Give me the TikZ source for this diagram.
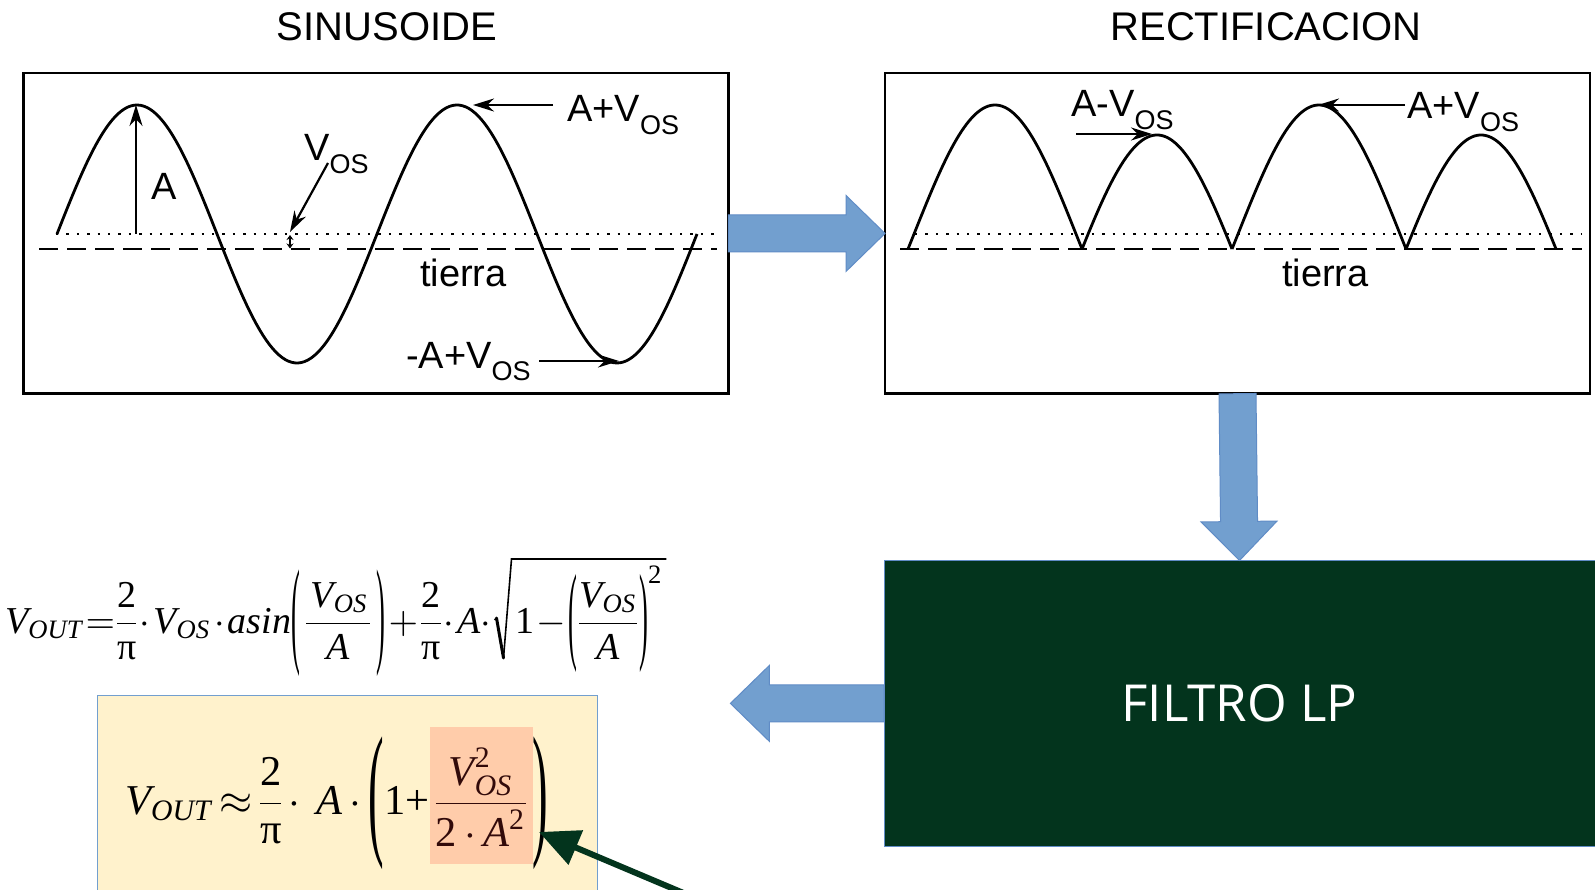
\documentclass[tikz,border=0pt]{standalone}
\usepackage{fontspec}
\usepackage{amsmath}
\setmainfont{Liberation Sans}
\newfontfamily\mserif{Liberation Serif}
\newfontfamily\osans{Open Sans}
\usetikzlibrary{arrows.meta,calc}
\definecolor{barfill}{RGB}{114,159,207}
\definecolor{bardraw}{RGB}{96,140,198}
\definecolor{filtgreen}{RGB}{3,52,29}
\definecolor{yell}{RGB}{255,242,204}
\definecolor{hl}{RGB}{255,204,170}
\definecolor{hltext}{RGB}{50,10,10}
\newcommand\subl[1]{\raisebox{-0.32em}{\fontsize{27}{27}\selectfont #1}}
\newcommand\mv[1]{\text{\mserif\itshape #1}}
\newcommand\md[1]{\text{\mserif #1}}
\newcommand\tallL[2][0.7]{\mathopen{\vcenter{\hbox{\scalebox{#1}[#2]{\mserif (}}}}}
\newcommand\tallR[2][0.7]{\mathclose{\vcenter{\hbox{\scalebox{#1}[#2]{\mserif )}}}}}
\newcommand\blockarr[2]{%
  \path (#1) coordinate (ba1) (#2) coordinate (ba2);
  \path ($(ba2)!39pt!(ba1)$) coordinate (bah);
  \filldraw[barrow] ($(ba1)!18.5pt!90:(ba2)$) -- ($(bah)!18.5pt!-90:(ba1)$)
    -- ($(bah)!38pt!-90:(ba1)$) -- (ba2) -- ($(bah)!38pt!90:(ba1)$)
    -- ($(bah)!18.5pt!90:(ba1)$) -- ($(ba1)!18.5pt!-90:(ba2)$) -- cycle;}
\begin{document}
\begin{tikzpicture}[x=1pt,y=-1pt,
  framebox/.style={draw, line width=2.6pt, inner sep=0pt, outer sep=0pt, anchor=north west},
  title/.style={font=\fontsize{40}{42}\selectfont, inner sep=0pt},
  lbl/.style={font=\fontsize{38}{40}\selectfont, inner sep=0pt, anchor=base west},
  wave/.style={line width=2.8pt},
  gnd/.style={line width=2.8pt, dash pattern=on 19pt off 9pt},
  mid/.style={line width=2.4pt, dash pattern=on 2.4pt off 8pt},
  ptr/.style={line width=2.2pt, -{Stealth[length=21pt,width=13pt]}},
  barrow/.style={fill=barfill, draw=bardraw, line width=1pt},
  formula/.style={inner sep=0pt, anchor=base west, font=\fontsize{10}{12}\selectfont}
]
\useasboundingbox (0,0) rectangle (1595,890);
\fill[white] (0,0) rectangle (1595,890);

% titles
\node[title] (t1) at (387,27) {SINUSOIDE};
\node[title] (t2) at (1266,27) {RECTIFICACION};

% boxes
\node[framebox, minimum width=705pt, minimum height=320.5pt] (sinbox) at (23.4,73.2) {};
\node[framebox, minimum width=705pt, minimum height=320.5pt] (rectbox) at (885,73.2) {};
\node[fill=filtgreen, draw=bardraw, line width=1pt, inner sep=0pt, outer sep=0pt,
      anchor=north west, minimum width=711pt, minimum height=285.8pt,
      text=white, font=\osans\fontsize{51}{52}\selectfont] (filt) at (884,560.5) {FILTRO LP};
\node[fill=yell, draw=barfill, line width=1pt, inner sep=0pt, outer sep=0pt,
      anchor=north west, minimum width=499.3pt, minimum height=210pt] (ybox) at (97.7,695.8) {};

% block arrows
\blockarr{sinbox.east}{rectbox.west}
\blockarr{rectbox.south}{filt.north}
\coordinate (outtip) at (730.4,703.4);
\blockarr{filt.west}{outtip}

% ---- sinusoid box ----
\draw[mid] (56,234) -- (717,234);
\draw[gnd] (39,249) -- (717,249);
\draw[wave] plot[domain=0:720, samples=200] ({57+\x/360*320},{234-129*sin(\x)});
\coordinate (abase) at (136,234);
\coordinate (apeak) at (136,105);
\draw[ptr] (abase) -- (apeak);
\node[lbl] (la) at (151,200) {A};
\node[lbl] (lvos) at (304,161) {V\subl{OS}};
\coordinate (vs) at (328,163);
\coordinate (vt) at (290,232);
\draw[ptr] (vs) -- (vt);
\coordinate (dd1) at (290,235);
\coordinate (dd2) at (290,248.5);
\draw[line width=1.8pt, {Stealth[length=5pt,width=7pt]}-{Stealth[length=5pt,width=7pt]}] (dd1) -- (dd2);
\node[lbl] (lap) at (567,122) {A+V\subl{OS}};
\coordinate (aps) at (553,105);
\coordinate (apt) at (473,105);
\draw[ptr] (aps) -- (apt);
\node[lbl] (lam) at (406,368) {-A+V\subl{OS}};
\coordinate (ams) at (539,361);
\coordinate (amt) at (619,361);
\draw[ptr] (ams) -- (amt);
\node[lbl] (tl) at (420,287) {tierra};

% ---- rectified box ----
\draw[mid] (915,234) -- (1582,234);
\draw[gnd] (900,249) -- (1582,249);
\draw[wave] plot[domain=-6.68:186.68, samples=90] ({908+(\x+6.68)*0.9},{249-(129*sin(\x)+15)});
\draw[wave] plot[domain=186.68:353.32, samples=90] ({908+(\x+6.68)*0.9},{249+(129*sin(\x)+15)});
\draw[wave] plot[domain=353.32:546.68, samples=90] ({908+(\x+6.68)*0.9},{249-(129*sin(\x)+15)});
\draw[wave] plot[domain=546.68:713.32, samples=90] ({908+(\x+6.68)*0.9},{249+(129*sin(\x)+15)});
\node[lbl] (lrm) at (1071,117) {A-V\subl{OS}};
\coordinate (rms) at (1076,134);
\coordinate (rmt) at (1152,134);
\draw[ptr] (rms) -- (rmt);
\node[lbl] (lrp) at (1407,119) {A+V\subl{OS}};
\coordinate (rps) at (1405,105);
\coordinate (rpt) at (1318,105);
\draw[ptr] (rps) -- (rpt);
\node[lbl] (tr) at (1282,287) {tierra};

% ---- formula 1 (left part, radicand, hand-drawn radical) ----
\node[formula] (f1a) at (5,633) {\scalebox{3.8}{%
  \thinmuskip=1mu \medmuskip=1.5mu \thickmuskip=1mu \nulldelimiterspace=0pt
  $\displaystyle
  \mv{V}_{\mv{OUT}}=\frac{\md{2}}{\md{π}}\cdot\mv{V}_{\mv{OS}}\cdot\mv{asin}\tallL{3.1}\mkern3mu\frac{\mkern2mu\mv{V}_{\mv{OS}}\mkern1mu}{\mv{A}}\mkern3mu\tallR{3.1}
  +\frac{\md{2}}{\md{π}}\cdot\mv{A}\cdot$}};
\node[formula] (f1b) at ($(f1a.base east)+(24,0)$) {\scalebox{3.8}{%
  \thinmuskip=1mu \medmuskip=1mu \thickmuskip=1mu \nulldelimiterspace=0pt
  $\displaystyle
  \md{1}-\tallL{2.85}\mkern1mu\frac{\mv{V}_{\mv{OS}}}{\mv{A}}\mkern1mu\tallR{2.85}^{\md{2}}$}};
\coordinate (rtop) at ($(f1b.base west)+(-4,-74)$);
\draw[line width=1.5pt] ($(f1b.base west)+(-21,-13)$) -- ($(f1b.base west)+(-19,-15)$);
\draw[line width=3pt, line cap=round] ($(f1b.base west)+(-19,-15)$) -- ($(f1b.base west)+(-12,25)$);
\draw[line width=1.6pt, line join=miter] ($(f1b.base west)+(-12,25)$) -- (rtop) -- ($(rtop -| f1b.east)+(3,0)$);

% ---- formula 2 ----
\node[formula] (f2) at (125,814) {\scalebox{4.25}{%
  \thinmuskip=2mu \medmuskip=3mu \thickmuskip=3mu \nulldelimiterspace=0pt \fboxsep=0pt
  $\displaystyle
  \mv{V}_{\mv{OUT}}\approx\frac{\md{2}}{\md{π}}\cdot\mkern4mu\mv{A}\cdot\tallL[1.1]{3.45}\md{1}\md{+}%
  \colorbox{hl}{\hspace{0.15em}\rule[-1.18em]{0pt}{3.23em}\color{hltext}$\displaystyle\frac{\mv{V}_{\mv{OS}}^{\md{2}}}{\md{2}\cdot\mv{A}^{\md{2}}}$\hspace{0.15em}}\tallR[1.1]{3.45}$}};

% green pointer
\coordinate (gs) at (700,900);
\coordinate (gt) at (539,832);
\draw[filtgreen, line width=6pt, -{Triangle[length=40pt,width=36pt]}] (gs) -- (gt);
\end{tikzpicture}
\end{document}
